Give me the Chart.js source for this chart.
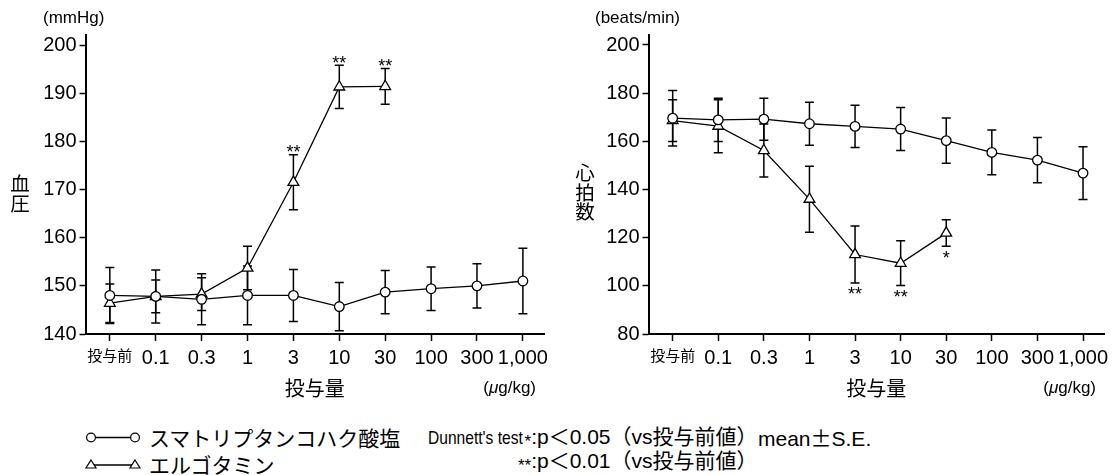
<!DOCTYPE html>
<html>
<head>
<meta charset="utf-8">
<script src="https://cdn.jsdelivr.net/npm/chart.js@4.4.1/dist/chart.umd.min.js"></script>
<style>
  body { margin: 0; background: #fff; width: 1116px; height: 475px; position: relative; overflow: hidden;
         font-family: "Liberation Sans", "Noto Sans CJK JP", sans-serif; color: #000; }
  canvas { position: absolute; top: 0; }
  .lg { position: absolute; white-space: nowrap; font-size: 21px; line-height: 24px; }
  .cond { font-size: 19px; transform: scaleX(.82); transform-origin: 0 50%; }
  .ast { font-size: 17px; position: relative; top: 3px; }
  .cjk { font-family: "Noto Sans CJK JP", sans-serif; }
</style>
</head>
<body>
<canvas id="bp" width="556" height="400" style="left:0"></canvas>
<canvas id="hr" width="553" height="400" style="left:563px"></canvas>

<svg style="position:absolute;left:80px;top:425px" width="70" height="50">
  <line x1="11" y1="12.5" x2="55" y2="12.5" stroke="#000" stroke-width="1.3"/>
  <circle cx="11" cy="12.5" r="4.4" fill="#fff" stroke="#000" stroke-width="1.2"/>
  <circle cx="55" cy="12.5" r="4.4" fill="#fff" stroke="#000" stroke-width="1.2"/>
  <line x1="11" y1="40" x2="55" y2="40" stroke="#000" stroke-width="1.3"/>
  <polygon points="11,35 16,43 6,43" fill="#fff" stroke="#000" stroke-width="1.2"/>
  <polygon points="55,35 60,43 50,43" fill="#fff" stroke="#000" stroke-width="1.2"/>
</svg>
<div class="lg cjk" style="left:149px;top:425px">スマトリプタンコハク酸塩</div>
<div class="lg cjk" style="left:149px;top:452px">エルゴタミン</div>
<div class="lg cond" style="left:428px;top:426px">Dunnett's test</div>
<div class="lg" style="right:579px;top:425px"><span class="ast">*</span>:</div>
<div class="lg" style="right:579px;top:449px"><span class="ast">**</span>:</div>
<div class="lg" style="left:537px;top:425px">p＜0.05（vs投与前値）</div>
<div class="lg" style="left:537px;top:449px">p＜0.01（vs投与前値）</div>
<div class="lg" style="left:758px;top:425px">mean<span class="cjk">±</span>S.E.</div>

<script>
const doseLabels = ['投与前', '0.1', '0.3', '1', '3', '10', '30', '100', '300', '1,000'];

// 血圧 (mmHg)
const bpSuma = [148.0, 147.8, 147.2, 148.0, 148.0, 145.7, 148.7, 149.4, 150.0, 151.0];
const bpSumaSE = [5.8, 5.5, 5.3, 6.1, 5.4, 5.0, 4.5, 4.5, 4.6, 6.8];
const bpErgo = [146.4, 147.8, 148.3, 153.7, 171.5, 191.3, 191.4];
const bpErgoSE = [4.0, 3.4, 3.4, 4.5, 5.7, 4.5, 3.7];
const bpErgoSig = ['', '', '', '', '**', '**', '**'];

// 心拍数 (beats/min)
const hrSuma = [169.6, 168.9, 169.2, 167.3, 166.2, 165.1, 160.3, 155.4, 152.2, 146.8];
const hrSumaSE = [11.5, 9.0, 8.7, 8.9, 8.8, 8.9, 9.4, 9.3, 9.4, 11.0];
const hrErgo = [168.6, 166.3, 156.2, 136.0, 113.0, 109.4, 121.9];
const hrErgoSE = [8.7, 11.0, 11.0, 13.7, 11.8, 9.3, 5.5];
const hrErgoSig = ['', '', '', '', '**', '**', '*'];

const latin = '"Liberation Sans", Arial, sans-serif';
const cjk = '"Noto Sans CJK JP", sans-serif';

const toXY = arr => arr.map((v, i) => ({ x: i, y: v }));

const errorBars = {
  id: 'errorBars',
  beforeDatasetsDraw(chart) {
    const { ctx, scales: { x, y } } = chart;
    ctx.save();
    ctx.strokeStyle = '#000';
    ctx.lineWidth = 1.5;
    chart.data.datasets.forEach(ds => {
      ds.se.forEach((e, i) => {
        const m = ds.data[i].y;
        const px = x.getPixelForValue(i);
        const top = y.getPixelForValue(m + e);
        const bot = y.getPixelForValue(m - e);
        ctx.beginPath();
        ctx.moveTo(px, top); ctx.lineTo(px, bot);
        ctx.moveTo(px - 4.5, top); ctx.lineTo(px + 4.5, top);
        ctx.moveTo(px - 4.5, bot); ctx.lineTo(px + 4.5, bot);
        ctx.stroke();
      });
    });
    ctx.restore();
  },
  afterDatasetsDraw(chart) {
    const { ctx, scales: { x, y } } = chart;
    ctx.save();
    ctx.fillStyle = '#000';
    ctx.font = '18px ' + latin;
    ctx.textAlign = 'center';
    ctx.textBaseline = 'alphabetic';
    chart.data.datasets.forEach(ds => {
      if (!ds.sig) return;
      ds.sig.forEach((s, i) => {
        if (!s) return;
        const m = ds.data[i].y, e = ds.se[i];
        const px = x.getPixelForValue(i);
        let cy;
        if (ds.sigSide === 'above') cy = y.getPixelForValue(m + e) - 7;
        else cy = y.getPixelForValue(m - e) + 7;
        ctx.fillText(s, px, cy + 10.4);
      });
    });
    ctx.restore();
  }
};

const extraText = {
  id: 'extraText',
  afterDraw(chart, args, o) {
    const { ctx, chartArea: a } = chart;
    ctx.save();
    ctx.fillStyle = '#000';
    ctx.textBaseline = 'middle';
    // unit above y axis
    ctx.textAlign = 'left';
    ctx.font = '17px ' + latin;
    ctx.fillText(o.unit, a.left - o.unitDx, 18);
    // vertical y title
    ctx.textAlign = 'center';
    ctx.font = '19.5px ' + cjk;
    o.yTitle.forEach((ch, i) => ctx.fillText(ch, o.yTitleX, o.yTitleY + i * 19.5));
    // (μg/kg)
    ctx.font = '17px ' + latin;
    const parts = [['(', '17px ' + latin], ['μ', 'italic 17px ' + latin], ['g/kg)', '17px ' + latin]];
    let w = 0;
    parts.forEach(p => { ctx.font = p[1]; w += ctx.measureText(p[0]).width; });
    let px = a.right - 8 - w;
    ctx.textAlign = 'left';
    parts.forEach(p => { ctx.font = p[1]; ctx.fillText(p[0], px, 388); px += ctx.measureText(p[0]).width; });
    ctx.restore();
  }
};

function makeChart(id, suma, sumaSE, ergo, ergoSE, ergoSig, sigSide, yMin, yMax, yTop, step, textOpts) {
  const pointStyle = { borderColor: '#000', backgroundColor: '#fff', borderWidth: 1.3,
                       pointBackgroundColor: '#fff', pointBorderColor: '#000', pointBorderWidth: 1.3 };
  return new Chart(document.getElementById(id), {
    type: 'line',
    data: {
      datasets: [
        Object.assign({ label: 'スマトリプタンコハク酸塩', data: toXY(suma), se: sumaSE,
                        pointStyle: 'circle', pointRadius: 4.8 }, pointStyle),
        Object.assign({ label: 'エルゴタミン', data: toXY(ergo), se: ergoSE, sig: ergoSig, sigSide: sigSide,
                        pointStyle: 'triangle', pointRadius: 6.2 }, pointStyle)
      ]
    },
    options: {
      responsive: false,
      animation: false,
      events: [],
      layout: { padding: { top: 35, right: 12, left: 0, bottom: 0 } },
      plugins: { legend: { display: false }, tooltip: { enabled: false }, extraText: textOpts },
      scales: {
        x: {
          type: 'linear', min: -0.53, max: 9.46,
          afterBuildTicks: s => { s.ticks = doseLabels.map((_, i) => ({ value: i })); },
          afterFit: s => { s.height = 66; },
          grid: { drawOnChartArea: false, color: '#000', tickLength: 7, tickWidth: 1.5 },
          border: { color: '#000', width: 2 },
          ticks: {
            color: '#000', padding: 5, autoSkip: false, maxRotation: 0,
            callback: v => doseLabels[v],
            font: c => c.index === 0 ? { family: cjk, size: 15 } : { family: latin, size: 20 }
          },
          title: { display: true, text: '投与量', color: '#000', font: { family: cjk, size: 20 }, padding: 0 }
        },
        y: {
          min: yMin, max: yMax,
          afterBuildTicks: s => { s.ticks = []; for (let v = yMin; v <= yTop; v += step) s.ticks.push({ value: v }); },
          afterFit: s => { s.width = 85.5; },
          grid: { drawOnChartArea: false, color: '#000', tickLength: 6, tickWidth: 1.5 },
          border: { color: '#000', width: 2 },
          ticks: { color: '#000', padding: 3, font: { family: latin, size: 20 } }
        }
      }
    },
    plugins: [errorBars, extraText]
  });
}

makeChart('bp', bpSuma, bpSumaSE, bpErgo, bpErgoSE, bpErgoSig, 'above', 140, 202.08, 200, 10,
  { unit: '(mmHg)', unitDx: 42.5, yTitle: ['血', '圧'], yTitleX: 20, yTitleY: 184 });
makeChart('hr', hrSuma, hrSumaSE, hrErgo, hrErgoSE, hrErgoSig, 'below', 80, 204.15, 200, 20,
  { unit: '(beats/min)', unitDx: 53.5, yTitle: ['心', '拍', '数'], yTitleX: 22, yTitleY: 173 });
</script>
</body>
</html>
